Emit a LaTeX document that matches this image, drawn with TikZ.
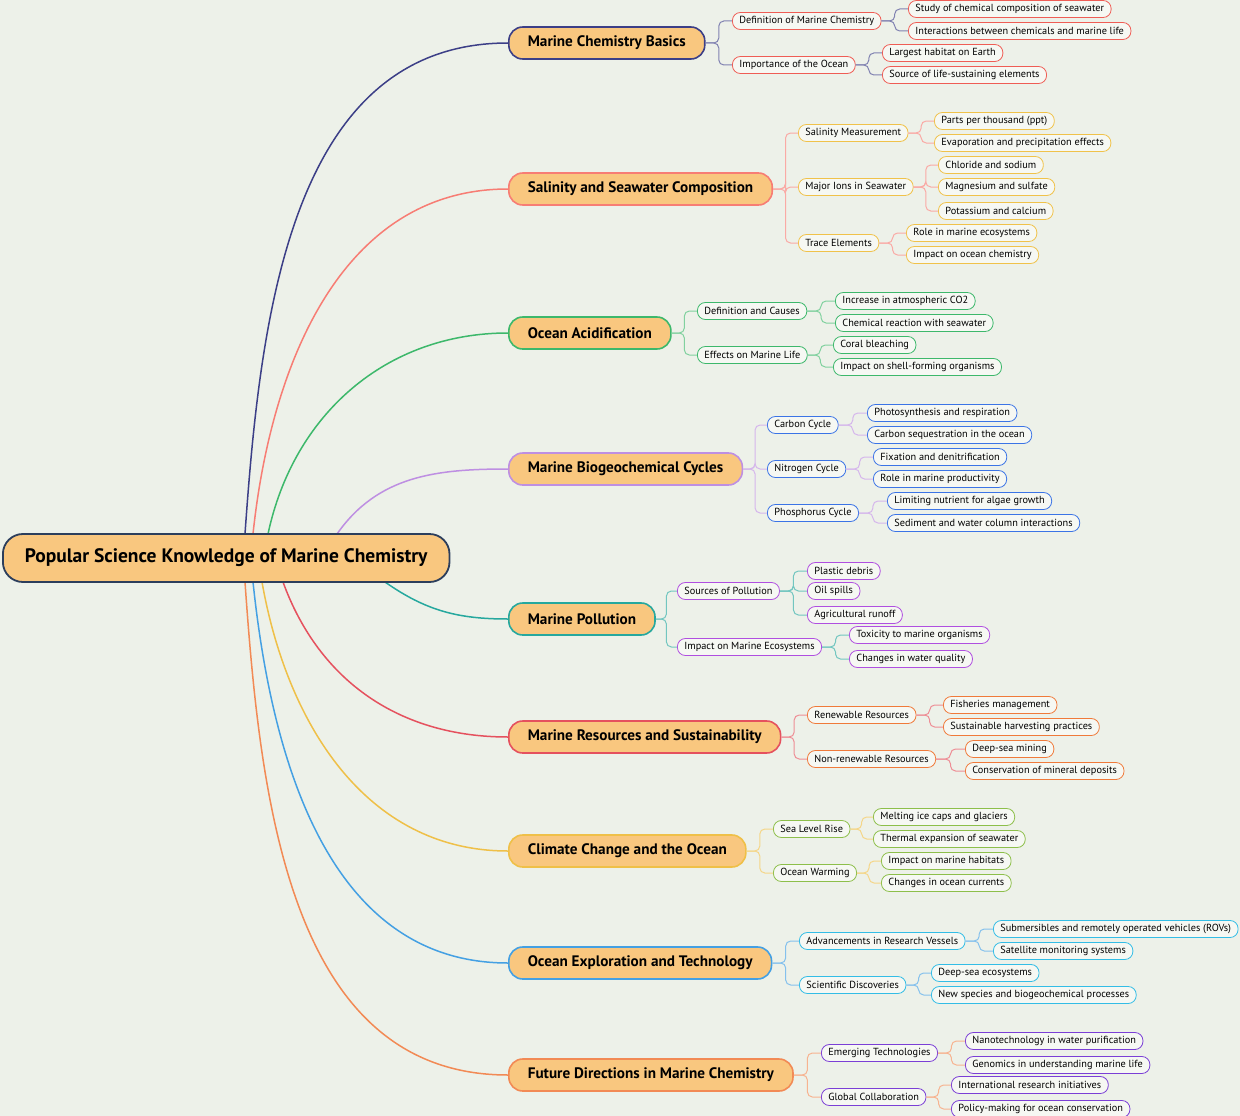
\documentclass[tikz,border=0pt]{standalone}
\usepackage{fontspec}
\setmainfont{PT Sans}
\usetikzlibrary{calc}
\definecolor{bg}{HTML}{EDF1E9}
\definecolor{mfill}{HTML}{F9C77F}
\definecolor{lfill}{HTML}{F6F8F3}
\definecolor{croot}{HTML}{2C3E5C}
\definecolor{cnavy}{HTML}{3C3F87}
\definecolor{csalmon}{HTML}{F77D74}
\definecolor{cgreen}{HTML}{3DB86B}
\definecolor{cpurple}{HTML}{BE8FE2}
\definecolor{cteal}{HTML}{26A89E}
\definecolor{cred}{HTML}{E5515E}
\definecolor{cyellow}{HTML}{EFC048}
\definecolor{cblue}{HTML}{44A0E3}
\definecolor{corange}{HTML}{F28A55}
\definecolor{bsalmon}{HTML}{EF5D55}
\definecolor{byellow}{HTML}{F0C24A}
\definecolor{bgreen}{HTML}{3DB86B}
\definecolor{bblue}{HTML}{3B74E6}
\definecolor{bpurple}{HTML}{B04FE0}
\definecolor{borange}{HTML}{F07A3A}
\definecolor{bolive}{HTML}{8DBF4A}
\definecolor{bcyan}{HTML}{33BDE6}
\definecolor{bviolet}{HTML}{7B3FD6}
\tikzset{
 rootbox/.style={draw=croot, line width=1.8pt, fill=mfill, rounded corners=20pt, minimum height=48pt, inner xsep=22pt, font=\fontsize{19.5}{22}\selectfont\bfseries, anchor=west},
 mainbox/.style={draw=#1, line width=1.6pt, fill=mfill, rounded corners=14pt, minimum height=32pt, inner xsep=19pt, font=\fontsize{15.2}{17}\selectfont\bfseries, anchor=west},
 leaf/.style={draw=#1, line width=0.8pt, fill=lfill, rounded corners=8pt, minimum height=17pt, inner xsep=7pt, inner ysep=1pt, font=\fontsize{10.3}{12}\selectfont, anchor=west},
 bigc/.style={draw=#1, line width=1.5pt},
 smc/.style={draw=#1!65!white, line width=1pt, rounded corners=5pt},
}
\newcommand\conn[3]{\draw[smc=#1] (#2.east) -- ($(#2.east)!0.5!(#2.east -| #3.west)$) |- (#3.west);}
\begin{document}
\begin{tikzpicture}[x=1pt,y=-1pt]
\fill[bg] (0,0) rectangle (1240,1116);
\useasboundingbox (0,0) rectangle (1240,1116);
\coordinate (s1) at (245,534); \coordinate (s2) at (253,534); \coordinate (s3) at (268,534);
\coordinate (s4) at (337,534); \coordinate (s5) at (385,582); \coordinate (s6) at (283,582);
\coordinate (s7) at (262,582); \coordinate (s8) at (253,582); \coordinate (s9) at (245,582);
\coordinate (t1) at (508,43); \coordinate (t2) at (508,189); \coordinate (t3) at (508,333);
\coordinate (t4) at (508,469); \coordinate (t5) at (508,619); \coordinate (t6) at (508,737);
\coordinate (t7) at (508,851); \coordinate (t8) at (508,963); \coordinate (t9) at (508,1075);
\draw[bigc=cnavy] (s1) to[out=86,in=180] (t1);
\draw[bigc=csalmon] (s2) to[out=84,in=180] (t2);
\draw[bigc=cgreen] (s3) to[out=78,in=180] (t3);
\draw[bigc=cpurple] (s4) to[out=55,in=180] (t4);
\draw[bigc=cteal] (s5) to[out=-35,in=180] (t5);
\draw[bigc=cred] (s6) to[out=-70,in=180] (t6);
\draw[bigc=cyellow] (s7) to[out=-80,in=180] (t7);
\draw[bigc=cblue] (s8) to[out=-84,in=180] (t8);
\draw[bigc=corange] (s9) to[out=-86,in=180] (t9);
\node[rootbox] (root) at (2,558) {Popular Science Knowledge of Marine Chemistry};
\node[mainbox=cnavy] (m1) at (t1) {Marine Chemistry Basics};
\node[mainbox=csalmon] (m2) at (t2) {Salinity and Seawater Composition};
\node[mainbox=cgreen] (m3) at (t3) {Ocean Acidification};
\node[mainbox=cpurple] (m4) at (t4) {Marine Biogeochemical Cycles};
\node[mainbox=cteal] (m5) at (t5) {Marine Pollution};
\node[mainbox=cred] (m6) at (t6) {Marine Resources and Sustainability};
\node[mainbox=cyellow] (m7) at (t7) {Climate Change and the Ocean};
\node[mainbox=cblue] (m8) at (t8) {Ocean Exploration and Technology};
\node[mainbox=corange] (m9) at (t9) {Future Directions in Marine Chemistry};
% M1
\node[leaf=bsalmon] (a1) at (732,21) {Definition of Marine Chemistry};
\node[leaf=bsalmon] (a11) at (908,9) {Study of chemical composition of seawater};
\node[leaf=bsalmon] (a12) at (908,31) {Interactions between chemicals and marine life};
\node[leaf=bsalmon] (a2) at (732,65) {Importance of the Ocean};
\node[leaf=bsalmon] (a21) at (882,53) {Largest habitat on Earth};
\node[leaf=bsalmon] (a22) at (882,75) {Source of life-sustaining elements};
\conn{cnavy}{m1}{a1}\conn{cnavy}{m1}{a2}
\conn{cnavy}{a1}{a11}\conn{cnavy}{a1}{a12}\conn{cnavy}{a2}{a21}\conn{cnavy}{a2}{a22}
% M2
\node[leaf=byellow] (b1) at (798,133) {Salinity Measurement};
\node[leaf=byellow] (b11) at (934,121) {Parts per thousand (ppt)};
\node[leaf=byellow] (b12) at (934,143) {Evaporation and precipitation effects};
\node[leaf=byellow] (b2) at (798,187) {Major Ions in Seawater};
\node[leaf=byellow] (b21) at (938,165) {Chloride and sodium};
\node[leaf=byellow] (b22) at (938,187) {Magnesium and sulfate};
\node[leaf=byellow] (b23) at (938,211) {Potassium and calcium};
\node[leaf=byellow] (b3) at (798,243) {Trace Elements};
\node[leaf=byellow] (b31) at (906,233) {Role in marine ecosystems};
\node[leaf=byellow] (b32) at (906,255) {Impact on ocean chemistry};
\conn{csalmon}{m2}{b1}\conn{csalmon}{m2}{b2}\conn{csalmon}{m2}{b3}
\conn{csalmon}{b1}{b11}\conn{csalmon}{b1}{b12}\conn{csalmon}{b2}{b21}\conn{csalmon}{b2}{b22}\conn{csalmon}{b2}{b23}\conn{csalmon}{b3}{b31}\conn{csalmon}{b3}{b32}
% M3
\node[leaf=bgreen] (c1) at (697,311) {Definition and Causes};
\node[leaf=bgreen] (c11) at (835,301) {Increase in atmospheric CO2};
\node[leaf=bgreen] (c12) at (835,323) {Chemical reaction with seawater};
\node[leaf=bgreen] (c2) at (697,355) {Effects on Marine Life};
\node[leaf=bgreen] (c21) at (833,345) {Coral bleaching};
\node[leaf=bgreen] (c22) at (833,367) {Impact on shell-forming organisms};
\conn{cgreen}{m3}{c1}\conn{cgreen}{m3}{c2}
\conn{cgreen}{c1}{c11}\conn{cgreen}{c1}{c12}\conn{cgreen}{c2}{c21}\conn{cgreen}{c2}{c22}
% M4
\node[leaf=bblue] (d1) at (767,425) {Carbon Cycle};
\node[leaf=bblue] (d11) at (867,413) {Photosynthesis and respiration};
\node[leaf=bblue] (d12) at (867,435) {Carbon sequestration in the ocean};
\node[leaf=bblue] (d2) at (767,469) {Nitrogen Cycle};
\node[leaf=bblue] (d21) at (873,457) {Fixation and denitrification};
\node[leaf=bblue] (d22) at (873,479) {Role in marine productivity};
\node[leaf=bblue] (d3) at (767,513) {Phosphorus Cycle};
\node[leaf=bblue] (d31) at (887,501) {Limiting nutrient for algae growth};
\node[leaf=bblue] (d32) at (887,523) {Sediment and water column interactions};
\conn{cpurple}{m4}{d1}\conn{cpurple}{m4}{d2}\conn{cpurple}{m4}{d3}
\conn{cpurple}{d1}{d11}\conn{cpurple}{d1}{d12}\conn{cpurple}{d2}{d21}\conn{cpurple}{d2}{d22}\conn{cpurple}{d3}{d31}\conn{cpurple}{d3}{d32}
% M5
\node[leaf=bpurple] (e1) at (677,591) {Sources of Pollution};
\node[leaf=bpurple] (e11) at (807,571) {Plastic debris};
\node[leaf=bpurple] (e12) at (807,591) {Oil spills};
\node[leaf=bpurple] (e13) at (807,615) {Agricultural runoff};
\node[leaf=bpurple] (e2) at (677,647) {Impact on Marine Ecosystems};
\node[leaf=bpurple] (e21) at (849,635) {Toxicity to marine organisms};
\node[leaf=bpurple] (e22) at (849,659) {Changes in water quality};
\conn{cteal}{m5}{e1}\conn{cteal}{m5}{e2}
\conn{cteal}{e1}{e11}\conn{cteal}{e1}{e12}\conn{cteal}{e1}{e13}\conn{cteal}{e2}{e21}\conn{cteal}{e2}{e22}
% M6
\node[leaf=borange] (f1) at (807,715) {Renewable Resources};
\node[leaf=borange] (f11) at (943,705) {Fisheries management};
\node[leaf=borange] (f12) at (943,727) {Sustainable harvesting practices};
\node[leaf=borange] (f2) at (807,759) {Non-renewable Resources};
\node[leaf=borange] (f21) at (965,749) {Deep-sea mining};
\node[leaf=borange] (f22) at (965,771) {Conservation of mineral deposits};
\conn{cred}{m6}{f1}\conn{cred}{m6}{f2}
\conn{cred}{f1}{f11}\conn{cred}{f1}{f12}\conn{cred}{f2}{f21}\conn{cred}{f2}{f22}
% M7
\node[leaf=bolive] (g1) at (773,829) {Sea Level Rise};
\node[leaf=bolive] (g11) at (873,817) {Melting ice caps and glaciers};
\node[leaf=bolive] (g12) at (873,839) {Thermal expansion of seawater};
\node[leaf=bolive] (g2) at (773,873) {Ocean Warming};
\node[leaf=bolive] (g21) at (881,861) {Impact on marine habitats};
\node[leaf=bolive] (g22) at (881,883) {Changes in ocean currents};
\conn{cyellow}{m7}{g1}\conn{cyellow}{m7}{g2}
\conn{cyellow}{g1}{g11}\conn{cyellow}{g1}{g12}\conn{cyellow}{g2}{g21}\conn{cyellow}{g2}{g22}
% M8
\node[leaf=bcyan] (h1) at (799,941) {Advancements in Research Vessels};
\node[leaf=bcyan] (h11) at (993,929) {Submersibles and remotely operated vehicles (ROVs)};
\node[leaf=bcyan] (h12) at (993,951) {Satellite monitoring systems};
\node[leaf=bcyan] (h2) at (799,985) {Scientific Discoveries};
\node[leaf=bcyan] (h21) at (931,973) {Deep-sea ecosystems};
\node[leaf=bcyan] (h22) at (931,995) {New species and biogeochemical processes};
\conn{cblue}{m8}{h1}\conn{cblue}{m8}{h2}
\conn{cblue}{h1}{h11}\conn{cblue}{h1}{h12}\conn{cblue}{h2}{h21}\conn{cblue}{h2}{h22}
% M9
\node[leaf=bviolet] (k1) at (821,1053) {Emerging Technologies};
\node[leaf=bviolet] (k11) at (965,1041) {Nanotechnology in water purification};
\node[leaf=bviolet] (k12) at (965,1065) {Genomics in understanding marine life};
\node[leaf=bviolet] (k2) at (821,1097) {Global Collaboration};
\node[leaf=bviolet] (k21) at (951,1085) {International research initiatives};
\node[leaf=bviolet] (k22) at (951,1109) {Policy-making for ocean conservation};
\conn{corange}{m9}{k1}\conn{corange}{m9}{k2}
\conn{corange}{k1}{k11}\conn{corange}{k1}{k12}\conn{corange}{k2}{k21}\conn{corange}{k2}{k22}
\end{tikzpicture}
\end{document}
